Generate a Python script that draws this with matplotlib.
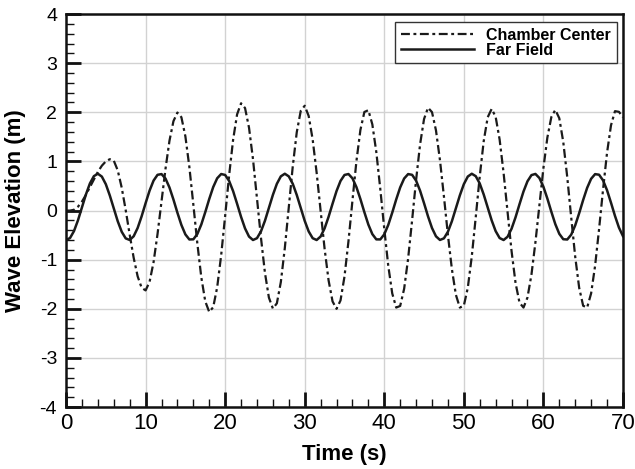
import numpy as np
import matplotlib
matplotlib.use("Agg")
import matplotlib.pyplot as plt
from matplotlib.ticker import MultipleLocator

plt.rcParams['font.family'] = ['Liberation Sans', 'DejaVu Sans']
plt.rcParams['axes.unicode_minus'] = False

time = np.arange(0, 70.01, 0.5)

chamber = [0.0, 0.0, 0.016, 0.079, 0.183, 0.321, 0.477, 0.637, 0.788, 0.913,
           1.002, 1.046, 1.017, 0.817, 0.465, 0.009, -0.490, -0.960, -1.338, -1.571,
           -1.625, -1.450, -1.051, -0.477, 0.185, 0.847, 1.421, 1.820, 1.995, 1.900,
           1.512, 0.889, 0.124, -0.664, -1.356, -1.848, -2.064, -1.966, -1.559, -0.907,
           -0.106, 0.718, 1.442, 1.958, 2.184, 2.087, 1.687, 1.046, 0.258, -0.552,
           -1.265, -1.772, -1.994, -1.888, -1.454, -0.762, 0.070, 0.902, 1.594, 2.028,
           2.134, 1.925, 1.447, 0.770, -0.009, -0.777, -1.420, -1.849, -2.000, -1.829,
           -1.343, -0.624, 0.202, 1.004, 1.641, 2.007, 2.044, 1.755, 1.191, 0.440,
           -0.370, -1.121, -1.685, -1.974, -1.941, -1.590, -0.975, -0.196, 0.622, 1.346,
           1.864, 2.094, 2.004, 1.632, 1.028, 0.286, -0.495, -1.192, -1.713, -1.975,
           -1.937, -1.571, -0.934, -0.132, 0.694, 1.413, 1.899, 2.070, 1.908, 1.446,
           0.764, -0.036, -0.824, -1.472, -1.875, -1.974, -1.770, -1.305, -0.646, 0.112,
           0.859, 1.486, 1.903, 2.050, 1.880, 1.396, 0.681, -0.141, -0.939, -1.573,
           -1.937, -1.974, -1.686, -1.125, -0.378, 0.428, 1.175, 1.736, 2.024, 2.010,
           1.900]

far_field = [-0.599, -0.559, -0.417, -0.198, 0.064, 0.328, 0.552, 0.701, 0.750, 0.692,
             0.537, 0.308, 0.042, -0.218, -0.432, -0.566, -0.598, -0.523, -0.354, -0.117,
             0.151, 0.406, 0.610, 0.728, 0.743, 0.652, 0.470, 0.225, -0.044, -0.293,
             -0.485, -0.588, -0.585, -0.478, -0.284, -0.032, 0.236, 0.479, 0.658, 0.744,
             0.725, 0.603, 0.396, 0.139, -0.128, -0.363, -0.529, -0.599, -0.562, -0.424,
             -0.208, 0.054, 0.319, 0.545, 0.697, 0.750, 0.696, 0.544, 0.318, 0.053,
             -0.209, -0.425, -0.562, -0.599, -0.528, -0.362, -0.127, 0.140, 0.397, 0.603,
             0.725, 0.744, 0.657, 0.478, 0.235, -0.033, -0.285, -0.479, -0.586, -0.587,
             -0.484, -0.293, -0.043, 0.226, 0.471, 0.653, 0.743, 0.728, 0.609, 0.405,
             0.150, -0.118, -0.355, -0.524, -0.598, -0.565, -0.431, -0.217, 0.043, 0.309,
             0.537, 0.693, 0.750, 0.700, 0.552, 0.327, 0.063, -0.199, -0.418, -0.559,
             -0.599, -0.533, -0.370, -0.137, 0.130, 0.388, 0.596, 0.722, 0.746, 0.663,
             0.487, 0.245, -0.023, -0.276, -0.473, -0.583, -0.589, -0.490, -0.301, -0.053,
             0.216, 0.462, 0.647, 0.742, 0.730, 0.615, 0.415, 0.160, -0.108, -0.347,
             -0.519]

fig = plt.figure(figsize=(6.35, 4.69), dpi=100)
ax = fig.add_axes([0.104, 0.132, 0.877, 0.838])

ax.plot(time, chamber, color="#1a1a1a", lw=1.6, linestyle=(0, (4, 1.6, 1.3, 1.6)),
        label="Chamber Center")
ax.plot(time, far_field, color="#1a1a1a", lw=1.8, label="Far Field")

ax.set_xlim(0, 70)
ax.set_ylim(-4, 4)
ax.xaxis.set_major_locator(MultipleLocator(10))
ax.xaxis.set_minor_locator(MultipleLocator(2))
ax.yaxis.set_major_locator(MultipleLocator(1))
ax.yaxis.set_minor_locator(MultipleLocator(0.2))
ax.grid(True, which="major", color="#d2d2d2", lw=1.0)
ax.set_axisbelow(True)

ax.tick_params(which="both", direction="in", top=False, right=False, color="#111111")
ax.tick_params(which="major", length=10.5, width=2)
ax.tick_params(which="minor", length=6, width=1)
ax.tick_params(axis="x", labelsize=16, pad=4.5)
ax.tick_params(axis="y", labelsize=14, pad=6.5)
for s in ax.spines.values():
    s.set_linewidth(1.8)
    s.set_color("#111111")

ax.set_xlabel("Time (s)", fontsize=16, fontweight="bold")
ax.set_ylabel("Wave Elevation (m)", fontsize=16, fontweight="bold")
ax.xaxis.set_label_coords(0.5, -0.093)
ax.yaxis.set_label_coords(-0.072, 0.5)

leg = ax.legend(loc="upper right", bbox_to_anchor=(0.989, 0.98), borderaxespad=0,
                prop={"weight": "bold", "size": 11.5}, fancybox=False, framealpha=1,
                handlelength=4.6, handletextpad=0.75, labelspacing=0.0, borderpad=0.35)
leg.get_frame().set_edgecolor("#333333")
leg.get_frame().set_linewidth(1.0)

fig.savefig("out.png", dpi=100)
